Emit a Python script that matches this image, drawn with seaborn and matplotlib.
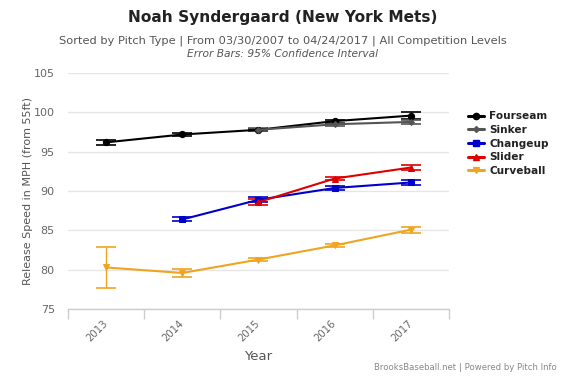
import matplotlib
matplotlib.use("Agg")
import matplotlib.pyplot as plt
import seaborn as sns
import numpy as np
import pandas as pd

years = ["2013", "2014", "2015", "2016", "2017"]
fourseam = [96.2, 97.2, 97.8, 98.9, 99.6]
fourseam_err = [0.35, 0.25, 0.15, 0.2, 0.4]
sinker = [None, None, 97.8, 98.5, 98.8]
sinker_err = [None, None, 0.2, 0.2, 0.3]
changeup = [None, 86.4, 88.9, 90.4, 91.1]
changeup_err = [None, 0.25, 0.3, 0.2, 0.3]
slider = [None, None, 88.6, 91.6, 93.0]
slider_err = [None, None, 0.35, 0.2, 0.35]
curveball = [80.3, 79.6, 81.3, 83.1, 85.1]
curveball_err = [2.6, 0.5, 0.15, 0.2, 0.4]

series = [
    ("Fourseam", fourseam, fourseam_err, "#000000", "o", 4.5),
    ("Sinker", sinker, sinker_err, "#555555", "D", 3),
    ("Changeup", changeup, changeup_err, "#0000cc", "s", 4.2),
    ("Slider", slider, slider_err, "#dd0000", "^", 4.5),
    ("Curveball", curveball, curveball_err, "#f0a420", "v", 4.5),
]

sns.set_theme(style="white")
plt.rcParams['font.family'] = ['DejaVu Sans']

fig = plt.figure(figsize=(5.66, 3.77), dpi=100)
ax = fig.add_axes([0.1201, 0.180, 0.673, 0.626])

handles = []
for name, vals, errs, color, marker, ms in series:
    df = pd.DataFrame({"x": np.arange(len(years)), "y": vals, "e": errs}).dropna()
    df["e"] = df["e"].astype(float)
    ax.errorbar(df["x"], df["y"], yerr=df["e"], fmt="none", ecolor=color,
                elinewidth=1, capsize=7, capthick=1.2, zorder=2)
    sns.lineplot(data=df, x="x", y="y", ax=ax, color=color, marker=marker,
                 markersize=ms, markeredgecolor=color, linewidth=1.5,
                 zorder=3, label=name, legend=False)
    handles.append(plt.Line2D([], [], color=color, marker=marker, markersize=ms,
                              linewidth=2.2, label=name))

ax.set_xlim(-0.5, 4.5)
ax.set_ylim(75, 105)
ax.set_yticks([75, 80, 85, 90, 95, 100, 105])
ax.yaxis.grid(True, color="#e6e6e6", linewidth=1)
ax.xaxis.grid(False)
for s in ["top", "right", "left"]:
    ax.spines[s].set_visible(False)
ax.spines["bottom"].set_color("#cccccc")
ax.spines["bottom"].set_linewidth(1)

ax.set_xticks(np.arange(len(years)))
ax.set_xticklabels(years, rotation=45, fontsize=7.3, color="#666666",
                   ha="right", va="center", rotation_mode="anchor")
ax.tick_params(axis="x", which="major", length=0, pad=9)
ax.set_xticks(np.arange(-0.5, 5.0, 1.0), minor=True)
ax.tick_params(axis="x", which="minor", length=7.5, color="#cccccc", width=1, bottom=True)
ax.tick_params(axis="y", length=0, labelsize=8, labelcolor="#666666", pad=9.5)

ax.set_xlabel("Year", fontsize=9.5, color="#555555", labelpad=5)
ax.set_ylabel("Release Speed in MPH (from 55ft)", fontsize=8, color="#555555")
ax.yaxis.set_label_coords(-0.092, 0.5)

leg = fig.legend(handles=handles, loc="upper left", bbox_to_anchor=(0.827, 0.705),
                 frameon=False, fontsize=7.6, handlelength=1.5, handletextpad=0.5,
                 labelspacing=0.35, borderaxespad=0, borderpad=0)
for t in leg.get_texts():
    t.set_fontweight("bold")
    t.set_color("#222222")

fig.text(0.5, 0.953, "Noah Syndergaard (New York Mets)", ha="center", va="center",
         fontsize=11.1, fontweight="bold", color="#222222")
fig.text(0.5, 0.893, "Sorted by Pitch Type | From 03/30/2007 to 04/24/2017 | All Competition Levels",
         ha="center", va="center", fontsize=8.2, color="#555555")
fig.text(0.5, 0.857, "Error Bars: 95% Confidence Interval", ha="center", va="center",
         fontsize=7.7, color="#555555", style="italic")
fig.text(0.984, 0.024, "BrooksBaseball.net | Powered by Pitch Info", ha="right", va="center",
         fontsize=6.1, color="#888888")

fig.savefig("out.png", dpi=100)
